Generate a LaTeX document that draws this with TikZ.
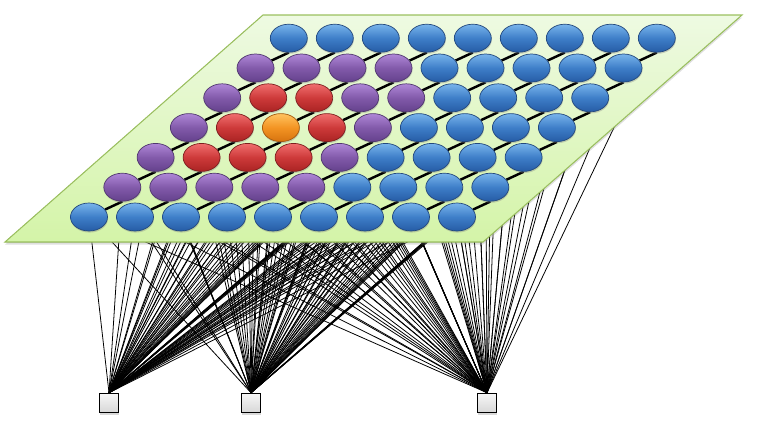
\documentclass[tikz,border=0pt]{standalone}
\usepackage{tikz}
\usetikzlibrary{shapes.geometric,shadows}
\pgfdeclarelayer{wires}
\pgfdeclarelayer{sheet}
\pgfdeclarelayer{links}
\pgfsetlayers{wires,sheet,links,main}
\definecolor{blueL}{RGB}{120,180,235}
\definecolor{blueM}{RGB}{62,126,200}
\definecolor{blueD}{RGB}{38,92,165}
\definecolor{blueE}{RGB}{35,72,125}
\definecolor{purpL}{RGB}{175,135,215}
\definecolor{purpM}{RGB}{130,90,170}
\definecolor{purpD}{RGB}{100,65,140}
\definecolor{purpE}{RGB}{80,55,110}
\definecolor{redL}{RGB}{240,110,110}
\definecolor{redM}{RGB}{205,58,58}
\definecolor{redD}{RGB}{170,35,35}
\definecolor{redE}{RGB}{125,30,30}
\definecolor{oraL}{RGB}{255,195,95}
\definecolor{oraM}{RGB}{243,148,35}
\definecolor{oraD}{RGB}{215,115,15}
\definecolor{oraE}{RGB}{165,90,15}
\definecolor{sheetT}{RGB}{238,250,226}
\definecolor{sheetB}{RGB}{212,244,168}
\definecolor{sheetE}{RGB}{155,192,95}

\begin{document}
\begin{tikzpicture}[x=0.02cm,y=-0.02cm,
    unit/.style={ellipse,inner sep=0pt,minimum width=0.74cm,minimum height=0.56cm,line width=0.4pt,
        drop shadow={shadow xshift=0.3pt,shadow yshift=-0.9pt,opacity=0.35}},
    unit b/.style={unit,draw=blueE,top color=blueL,bottom color=blueD,middle color=blueM},
    unit p/.style={unit,draw=purpE,top color=purpL,bottom color=purpD,middle color=purpM},
    unit r/.style={unit,draw=redE,top color=redL,bottom color=redD,middle color=redM},
    unit o/.style={unit,draw=oraE,top color=oraL,bottom color=oraD,middle color=oraM},
    link/.style={line width=1.4pt,black},
    wire/.style={line width=0.45pt,black},
    inbox/.style={rectangle,draw,line width=0.6pt,minimum size=0.39cm,inner sep=0pt,
        top color=gray!6,bottom color=gray!32,
        drop shadow={shadow xshift=0.4pt,shadow yshift=-1pt,opacity=0.3}}]
    \useasboundingbox (0,0) rectangle (757,433);

    \foreach \r/\cols in {0/{b,b,b,b,b,b,b,b,b},1/{p,p,p,p,p,b,b,b,b},2/{p,r,r,r,p,b,b,b,b},
            3/{p,r,o,r,p,b,b,b,b},4/{p,r,r,p,p,b,b,b,b},5/{p,p,p,p,b,b,b,b,b},6/{b,b,b,b,b,b,b,b,b}}
        \foreach \k [count=\c from 0] in \cols
            \node [unit \k] (n-\r-\c) at (89+46*\c+33.3*\r, 217-29.8*\r) {};

    \node [inbox] (in-1) at (109,403) {};
    \node [inbox] (in-2) at (251,403) {};
    \node [inbox] (in-3) at (487,403) {};

    \begin{pgfonlayer}{links}
        \foreach \r in {0,...,6}
            \foreach \c [evaluate=\c as \cc using int(\c+1)] in {0,...,7}
                \draw [link] (n-\r-\c) -- (n-\r-\cc);
        \foreach \r [evaluate=\r as \rr using int(\r+1)] in {0,...,5}
            \foreach \c in {0,...,8}
                \draw [link] (n-\r-\c) -- (n-\rr-\c.south);
    \end{pgfonlayer}

    \begin{pgfonlayer}{sheet}
        \filldraw [draw=sheetE,line width=0.6pt,top color=sheetT,bottom color=sheetB,
            drop shadow={shadow xshift=0pt,shadow yshift=-1.5pt,opacity=0.25}]
            (5,242) -- (483,242) -- (742,15) -- (263,15) -- cycle;
    \end{pgfonlayer}

    \begin{pgfonlayer}{wires}
        \foreach \i in {1,2,3}
            \foreach \r in {0,...,6}
                \foreach \c in {0,...,8}
                    \draw [wire] (in-\i.north) -- (n-\r-\c);
    \end{pgfonlayer}
\end{tikzpicture}
\end{document}
